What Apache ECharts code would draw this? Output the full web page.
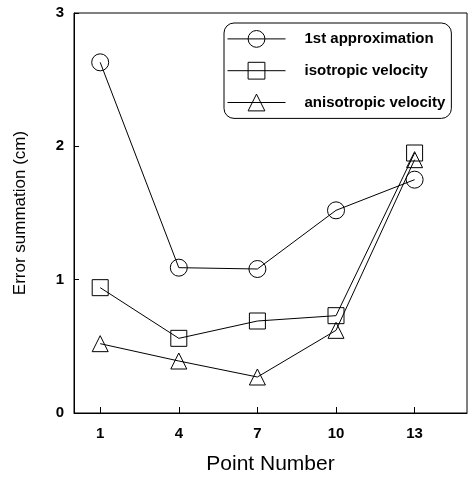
<!DOCTYPE html>
<html>
<head>
<meta charset="utf-8">
<style>
  html, body { margin: 0; padding: 0; background: #fff; }
  #chart { width: 468px; height: 482px; }
</style>
<script src="https://cdn.jsdelivr.net/npm/echarts@6/dist/echarts.min.js"></script>
</head>
<body>
<div id="chart"></div>
<script>
// point numbers on the x axis
const points = [1, 4, 7, 10, 13];
const xTicks = [1, 4, 7, 10, 13];

// error summation (cm)
const firstApprox = [2.63, 1.09, 1.08, 1.52, 1.75];
const isotropic = [0.94, 0.56, 0.69, 0.73, 1.95];
const anisotropic = [0.52, 0.39, 0.27, 0.62, 1.90];

const font = "'Liberation Sans', Arial, sans-serif";

const pairs = (vals) => points.map((p, i) => [p, vals[i]]);

const mkSeries = (name, vals, symbol, size) => ({
  name: name,
  type: "line",
  data: pairs(vals),
  symbol: symbol,
  symbolSize: size,
  lineStyle: { color: "#000", width: 1 },
  itemStyle: { color: "transparent", borderColor: "#000", borderWidth: 1 },
  emphasis: { disabled: true },
  animation: false,
});

const chart = echarts.init(document.getElementById("chart"));
chart.setOption({
  backgroundColor: "#fff",
  grid: {
    left: 74,
    top: 13,
    right: 1,
    bottom: 69,
    show: true,
    borderColor: "#000",
    borderWidth: 1,
  },
  legend: {
    left: 224,
    top: 23,
    orient: "vertical",
    itemWidth: 58,
    itemHeight: 21,
    itemGap: 14,
    padding: [7, 6, 7, 3],
    borderColor: "#000",
    borderWidth: 1,
    borderRadius: 10,
    lineStyle: { width: 1, color: "#000" },
    itemStyle: { color: "transparent", borderColor: "#000", borderWidth: 1 },
    textStyle: {
      fontFamily: font,
      fontSize: 15,
      fontWeight: "bold",
      color: "#000",
      padding: [0, 0, 0, 14],
    },
    data: ["1st approximation", "isotropic velocity", "anisotropic velocity"],
  },
  xAxis: {
    type: "value",
    min: 0,
    max: 15,
    name: "Point Number",
    nameLocation: "middle",
    nameGap: 41,
    nameTextStyle: { fontFamily: font, fontSize: 21, color: "#000" },
    axisLine: { lineStyle: { color: "#000", width: 1 } },
    axisTick: { inside: true, length: 6, customValues: xTicks, lineStyle: { color: "#000" } },
    axisLabel: {
      customValues: xTicks,
      margin: 13,
      fontFamily: font,
      fontSize: 15,
      fontWeight: "bold",
      color: "#000",
    },
    splitLine: { show: false },
  },
  yAxis: {
    type: "value",
    min: 0,
    max: 3,
    interval: 1,
    name: "Error summation (cm)",
    nameLocation: "middle",
    nameGap: 45,
    nameTextStyle: { fontFamily: font, fontSize: 17, color: "#000" },
    axisLine: { show: true, lineStyle: { color: "#000", width: 1 } },
    axisTick: { show: true, inside: true, length: 5, lineStyle: { color: "#000" } },
    axisLabel: {
      margin: 10,
      fontFamily: font,
      fontSize: 15,
      fontWeight: "bold",
      color: "#000",
    },
    splitLine: { show: false },
  },
  series: [
    mkSeries("1st approximation", firstApprox, "circle", 17),
    mkSeries("isotropic velocity", isotropic, "rect", 16),
    mkSeries("anisotropic velocity", anisotropic, "triangle", 16),
  ],
});
</script>
</body>
</html>
